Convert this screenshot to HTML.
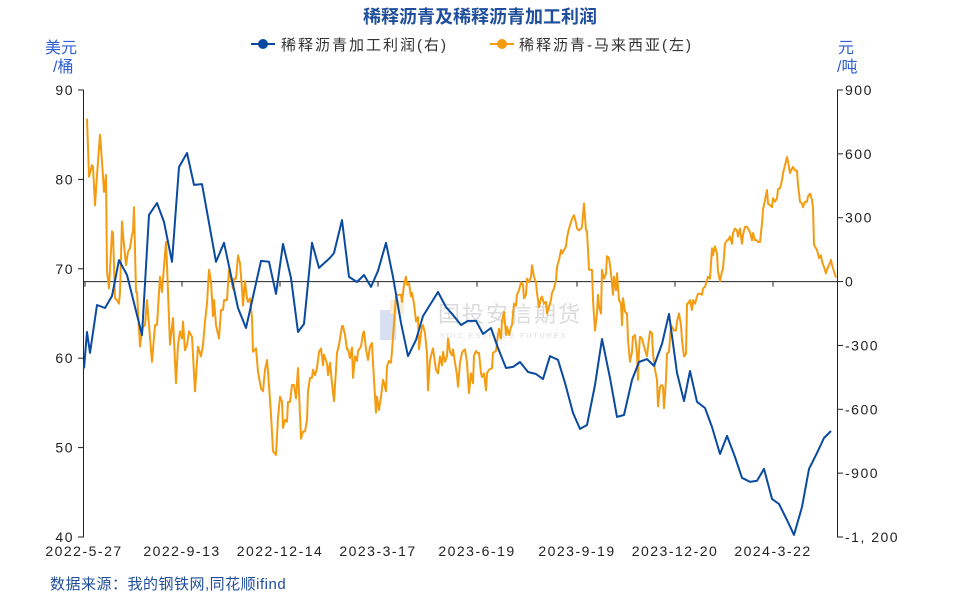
<!DOCTYPE html>
<html><head><meta charset="utf-8">
<style>
body{margin:0;background:#fff;width:960px;height:600px;overflow:hidden;font-family:"Liberation Sans","Noto Sans CJK SC",sans-serif;}
svg{display:block}
</style></head>
<body>
<svg id="chart" width="960" height="600" xmlns="http://www.w3.org/2000/svg" font-family="Liberation Sans, Noto Sans CJK SC, sans-serif">
<text x="480" y="23" text-anchor="middle" font-size="18" font-weight="bold" fill="#1f4e9c">稀释沥青及稀释沥青加工利润</text>
<g>
  <g>
    <line x1="251" y1="44" x2="275" y2="44" stroke="#0a4aa0" stroke-width="2"/>
    <circle cx="263" cy="44" r="5" fill="#0a4aa0"/>
    <text x="281" y="50" font-size="15" fill="#333" letter-spacing="2">稀释沥青加工利润(右)</text>
  </g>
  <g>
    <line x1="490" y1="44" x2="514" y2="44" stroke="#f39c12" stroke-width="2"/>
    <circle cx="502" cy="44" r="5" fill="#f39c12"/>
    <text x="519" y="50" font-size="15" fill="#333" letter-spacing="2">稀释沥青-马来西亚(左)</text>
  </g>
</g>
<g fill="#2f5fd0" font-size="16">
  <text x="45" y="53">美元</text><text x="53" y="72">/桶</text>
</g>
<g fill="#2f5fd0" font-size="16">
  <text x="838" y="53">元</text><text x="837" y="72">/吨</text>
</g>
<g opacity="0.35">
  <rect x="380" y="310" width="16" height="30" fill="#8fa6d6"/>
  <rect x="390" y="300" width="14" height="14" fill="#f5c98a"/>
  <text x="438" y="322" font-size="22" fill="#999" letter-spacing="2">国投安信期货</text>
  <text x="440" y="338" font-size="7" fill="#999" letter-spacing="2">SDIC ESSENCE FUTURES</text>
</g>
<g id="axes"></g>
<g id="series"></g>
<text x="50" y="589" font-size="15" fill="#1f4e9c" letter-spacing="0.5">数据来源：我的钢铁网,同花顺ifind</text>
</svg>
<script>
const leftTicks=[90,80,70,60,50,40];
const rightTicks=[900,600,300,0,-300,-600,-900,-1200];
const rightTickLabels=["900","600","300","0","-300","-600","-900","-1, 200"];
const xTickT=[1,98,196,294,393,493,591,689];
const xTickLabels=["2022-5-27","2022-9-13","2022-12-14","2023-3-17","2023-6-19","2023-9-19","2023-12-20","2024-3-22"];
const profitT=[0,3,6,13,21,28,35,43,58,65,73,80,88,95,103,110,118,132,140,154,162,177,185,192,199,207,214,220,228,235,
246,250,258,265,273,280,287,294,302,309,317,324,332,339,354,362,369,377,384,392,399,407,414,422,429,436,444,452,459,466,474,481,489,496,503,
511,518,526,533,540,548,555,563,570,578,585,593,600,606,613,621,628,636,643,651,658,666,673,680,688,695,703,710,718,725,733,740,747];
const profitValues=[-408,-237,-335,-110,-124,-68,101,31,-251,313,369,280,93,538,604,454,458,93,182,-124,-218,97,93,-58,177,17,-237,-199,182,64,
111,134,289,22,-2,31,-25,50,182,22,-194,-350,-274,-162,-49,-120,-157,-204,-185,-185,-246,-218,-312,-406,-401,-378,-425,-434,-458,-350,-368,-476,-617,-692,-674,
-486,-270,-453,-636,-627,-462,-378,-364,-396,-293,-152,-429,-561,-420,-565,-594,-683,-810,-725,-824,-922,-941,-936,-880,-1021,-1045,-1120,-1190,-1059,-880,-805,-735,-702];
const malaysiaT=[3,5,8,9,11,13,16,18,20,22,23,25,28,29,31,33,35,36,38,39,42,44,46,48,49,50,52,53,56,58,59,61,63,65,68,71,73,76,78,79,82,83,86,89,90,92,94,96,98,99,101,103,105,108,111,114,117,119,121,123,125,127,129,130,132,135,137,139,140,143,145,147,149,150,152,154,156,158,159,161,163,164,166,168,169,172,174,177,179,181,183,184,187,189,192,194,196,198,199,201,203,204,206,208,210,212,214,217,219,221,223,224,226,228,229,231,233,235,237,239,240,243,244,
246,248,250,252,253,255,258,259,261,263,264,266,268,269,271,273,274,277,279,280,282,284,286,288,289,292,293,295,297,299,300,302,303,305,307,308,310,312,314,317,318,320,322,323,325,327,328,330,332,334,335,338,339,341,343,344,346,349,350,352,354,356,358,359,361,363,364,366,368,369,371,373,374,376,378,379,381,383,385,387,389,390,392,393,395,397,398,400,402,403,405,408,409,412,413,415,417,418,420,422,423,425,427,428,430,432,433,435,437,439,440,442,443,445,447,448,450,452,453,455,457,458,460,462,463,465,467,468,470,472,473,475,477,478,480,482,483,485,487,488,490,492,493,495,497,498,500,502,503,505,
506,508,509,511,513,514,515,517,518,520,522,523,525,527,529,530,532,533,535,537,538,539,541,543,544,546,548,549,551,553,554,555,556,558,559,561,563,564,566,568,569,571,573,574,576,578,579,580,582,583,585,587,588,590,592,593,595,597,598,600,602,603,604,606,608,609,611,613,614,616,618,619,621,623,624,626,628,629,631,633,634,636,638,639,641,643,644,646,648,649,651,653,654,656,658,659,661,663,664,666,668,669,671,673,674,676,678,679,681,683,684,686,688,689,691,693,694,696,698,699,701,703,704,706,708,709,711,713,714,716,718,719,721,723,724,726,728,729,730,732,733,735,737,738,740,742,743,745,747,748,750,752];
const malaysiaValues=[86.8,80.3,81.6,81.4,77.1,80.5,85.0,82.0,78.6,80.5,69.7,67.8,74.2,74.0,66.7,66.5,66.1,67.4,75.3,73.8,70.4,71.9,72.3,73.8,74.2,76.9,67.4,67.4,61.3,63.0,63.5,63.7,66.5,63.7,59.6,63.7,63.7,69.1,67.4,68.9,73.0,70.4,61.5,64.5,62.0,57.2,61.5,63.0,62.2,64.1,60.9,61.5,63.0,62.4,56.3,61.3,60.2,61.5,64.1,66.1,69.9,68.6,64.7,66.5,63.7,62.2,65.4,65.4,66.5,66.5,69.9,68.9,67.8,68.9,68.9,71.5,70.6,67.8,65.9,68.6,66.7,66.3,66.7,64.5,60.7,61.1,58.5,56.6,56.3,58.7,59.8,58.5,53.7,49.6,49.2,53.3,55.7,55.1,52.2,53.1,52.9,55.1,55.1,57.0,57.0,55.5,58.9,51.0,51.8,51.8,53.1,56.3,57.8,57.8,58.7,58.1,58.9,60.7,61.1,59.2,60.4,59.4,58.1,
59.5,57.2,55.2,58.7,60.6,61.5,63.6,63.6,62.6,61.0,61.0,60.0,61.2,57.8,60.2,59.7,60.8,61.3,62.8,63.0,61.0,59.8,61.3,61.7,59.5,53.9,55.7,54.2,55.7,57.6,57.2,56.3,59.1,59.7,59.5,60.8,63.9,66.9,67.1,67.1,66.3,68.2,69.1,68.2,68.4,66.9,67.3,66.1,64.1,64.6,61.0,63.6,63.7,62.8,60.5,56.4,59.8,61.1,60.3,58.7,58.3,60.2,59.2,60.7,59.6,60.2,62.2,60.7,60.3,61.0,59.5,58.1,56.8,59.5,60.6,60.8,61.0,59.5,56.1,58.3,57.2,60.3,60.8,60.6,60.6,58.3,57.9,58.3,56.4,58.3,58.7,58.9,60.6,60.8,61.8,63.3,62.2,64.1,65.2,62.6,63.5,62.6,63.5,63.7,66.1,65.9,67.1,67.6,68.5,68.2,66.7,67.1,68.9,68.5,69.1,70.4,69.1,68.5,67.3,65.7,66.7,66.9,66.1,66.3,65.0,65.7,66.5,67.3,67.8,68.7,70.2,71.0,72.1,71.7,72.1,72.5,73.5,74.5,75.2,75.6,76.0,75.1,74.5,74.3,74.5,74.7,77.3,74.3,74.2,69.9,
69.9,69.9,66.5,63.1,65.0,67.1,65.8,65.0,69.9,68.9,69.5,71.4,71.2,69.5,67.1,69.1,67.6,69.5,66.5,66.1,63.7,66.7,65.2,65.0,62.0,59.6,60.7,62.4,62.6,60.5,57.6,60.9,62.4,62.2,61.8,60.9,60.2,61.3,63.0,62.8,60.5,58.7,57.6,54.6,56.8,57.0,56.8,54.4,57.6,60.5,60.7,63.7,63.5,63.1,63.1,64.1,65.0,63.7,62.0,60.2,60.5,66.1,66.1,66.5,65.4,66.5,66.1,66.9,67.2,67.2,67.1,67.8,68.0,68.7,69.1,68.9,72.3,71.5,72.5,71.7,69.7,68.6,69.7,70.0,72.8,73.2,73.2,73.6,72.8,74.0,74.5,74.3,73.6,74.5,72.8,73.8,74.7,74.7,74.5,74.1,73.2,74.0,73.2,73.2,73.0,73.0,75.1,76.6,77.7,78.8,77.3,77.1,76.9,77.9,77.5,77.9,78.9,79.0,79.9,80.7,81.6,82.5,82.0,80.7,81.2,81.4,81.0,81.0,79.4,77.5,77.3,76.9,77.5,77.5,78.1,78.4,77.7,76.8,72.7,72.3,72.1,71.2,71.5,70.8,70.2,69.5,69.9,70.4,71.0,70.4,69.7,69.0];

const NS="http://www.w3.org/2000/svg";
const X0=84,X1=836,YT=90,YB=537;
const xScale=t=>X0+t*(X1-X0)/752;
const yLeft=v=>YB-(v-40)*(YB-YT)/50;
const yRight=v=>YB-(v+1200)*(YB-YT)/2100;
function mk(tag,attrs,parent){const e=document.createElementNS(NS,tag);for(const k in attrs)e.setAttribute(k,attrs[k]);parent.appendChild(e);return e;}
const axes=document.getElementById('axes'),series=document.getElementById('series');

const la=mk('line',{x1:83.5,y1:YT,x2:83.5,y2:YB,stroke:'#222','stroke-width':1},axes);


leftTicks.forEach(v=>{const y=yLeft(v);
  const tk=mk('line',{x1:78,y1:y,x2:84,y2:y,stroke:'#222'},axes);
  
  
  const t=mk('text',{x:74,y:y+5,'text-anchor':'end','font-size':14,fill:'#222','letter-spacing':'1.5'},axes);t.textContent=v;
  
  
});
const ra=mk('line',{x1:837.5,y1:YT,x2:837.5,y2:YB,stroke:'#222','stroke-width':1},axes);


rightTicks.forEach((v,i)=>{const y=yRight(v);
  const tk=mk('line',{x1:837,y1:y,x2:843,y2:y,stroke:'#222'},axes);
  
  
  const t=mk('text',{x:845,y:y+5,'font-size':14,fill:'#222','letter-spacing':'1.5'},axes);t.textContent=rightTickLabels[i];
  
  
});
const zy=yRight(0);
const zl=mk('line',{x1:X0,y1:zy,x2:837,y2:zy,stroke:'#222','stroke-width':1},axes);


xTickT.forEach((t,i)=>{const x=xScale(t);
  const tk=mk('line',{x1:x,y1:zy,x2:x,y2:zy+5,stroke:'#222'},axes);
  
  
  const tx=mk('text',{x:i===0?X0:x,y:556,'text-anchor':'middle','font-size':14,fill:'#222','letter-spacing':'1.5'},axes);tx.textContent=xTickLabels[i];
  
  
});

const op=mk('polyline',{points:malaysiaValues.map((v,i)=>xScale(malaysiaT[i]).toFixed(1)+','+yLeft(v).toFixed(1)).join(' '),fill:'none',stroke:'#f39c12','stroke-width':2,'stroke-linejoin':'round'},series);


const bp=mk('polyline',{points:profitValues.map((v,i)=>xScale(profitT[i]).toFixed(1)+','+yRight(v).toFixed(1)).join(' '),fill:'none',stroke:'#0a4aa0','stroke-width':2,'stroke-linejoin':'round'},series);


</script>
</body></html>
